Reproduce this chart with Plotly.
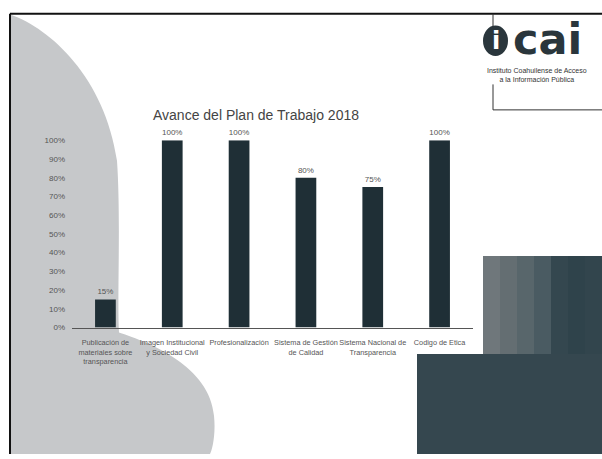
import plotly.graph_objects as go

categories = [
    "Publicación de<br>materiales sobre<br>transparencia",
    "Imagen Institucional<br>y Sociedad Civil",
    "Profesionalización",
    "Sistema de Gestión<br>de Calidad",
    "Sistema Nacional de<br>Transparencia",
    "Codigo de Etica",
]
values = [0.15, 1.00, 1.00, 0.80, 0.75, 1.00]
value_labels = ["15%", "100%", "100%", "80%", "75%", "100%"]
y_ticks = [0, 0.1, 0.2, 0.3, 0.4, 0.5, 0.6, 0.7, 0.8, 0.9, 1.0]

W, H = 602, 459
def px(x):
    return x / W
def py(y):
    return 1 - y / H

fig = go.Figure()
fig.add_trace(go.Bar(
    x=categories, y=values, text=value_labels, textposition="outside",
    textfont=dict(size=8, color="#555555", family="Liberation Sans"),
    marker=dict(color="#1f2f36", line=dict(width=0)),
    width=0.31, cliponaxis=False, hoverinfo="skip",
))

shapes = []
# gray blob on the left
pts = [("M", [(11, 11)]),
       ("C", [(50, 25), (105, 75), (117, 160)]),
       ("C", [(121, 220), (117, 300), (119, 335)]),
       ("C", [(150, 345), (210, 370), (214, 420)]),
       ("C", [(216, 440), (212, 455), (210, 459)]),
       ("L", [(11, 459)])]
path = ""
for cmd, ps in pts:
    path += cmd + " " + " ".join(f"{px(a):.5f},{py(b):.5f}" for a, b in ps) + " "
path += "Z"
shapes.append(dict(type="path", path=path, xref="paper", yref="paper",
                   fillcolor="#c6c8ca", line=dict(width=0), layer="below"))

# dark squares bottom right (upper one with gradient strips)
strip_cols = ["#6f777b", "#646e72", "#58666b", "#4a5b62", "#34474f", "#2f434b", "#32454d"]
x0, x1 = 483, 602
n = len(strip_cols)
for i, c in enumerate(strip_cols):
    a = x0 + (x1 - x0) * i / n
    b = x0 + (x1 - x0) * (i + 1) / n + 0.5
    shapes.append(dict(type="rect", xref="paper", yref="paper",
                       x0=px(a), x1=px(b), y0=py(459), y1=py(257),
                       fillcolor=c, line=dict(width=0)))
shapes.append(dict(type="rect", xref="paper", yref="paper",
                   x0=px(417), x1=px(602), y0=py(459), y1=py(357),
                   fillcolor="#35474f", line=dict(width=0)))

# frame
shapes.append(dict(type="line", xref="paper", yref="paper",
                   x0=px(10), x1=px(602), y0=py(10), y1=py(10),
                   line=dict(color="#111111", width=2)))
shapes.append(dict(type="line", xref="paper", yref="paper",
                   x0=px(10), x1=px(10), y0=py(10), y1=py(459),
                   line=dict(color="#111111", width=2)))
# logo box lines
shapes.append(dict(type="line", xref="paper", yref="paper",
                   x0=px(493), x1=px(493), y0=py(10), y1=py(30),
                   line=dict(color="#333333", width=1)))
shapes.append(dict(type="line", xref="paper", yref="paper",
                   x0=px(493), x1=px(493), y0=py(82), y1=py(108),
                   line=dict(color="#333333", width=1)))
shapes.append(dict(type="line", xref="paper", yref="paper",
                   x0=px(493), x1=px(602), y0=py(108), y1=py(108),
                   line=dict(color="#333333", width=1)))
# logo circle
shapes.append(dict(type="circle", xref="paper", yref="paper",
                   x0=px(483), x1=px(508), y0=py(53), y1=py(22),
                   fillcolor="#2a363c", line=dict(width=0)))

def ann(text, x, y, size, color, family="Liberation Sans"):
    return dict(text=text, x=px(x), y=py(y), xref="paper", yref="paper",
                xanchor="center", yanchor="middle", showarrow=False,
                font=dict(size=size, color=color, family=family))

annotations = [
    ann("Avance del Plan de Trabajo 2018", 256, 113, 14, "#444444"),
    ann("<b>i</b>", 495.5, 38, 24, "#ffffff", "DejaVu Sans"),
    ann("<b>cai</b>", 547, 36, 43, "#2a363c", "DejaVu Sans"),
    ann("Instituto Coahuilense de Acceso<br>a la Información Pública", 537, 72, 7, "#333333"),
]

fig.update_layout(
    width=W, height=H, margin=dict(l=0, r=0, t=0, b=0),
    paper_bgcolor="#ffffff", plot_bgcolor="rgba(0,0,0,0)",
    showlegend=False, shapes=shapes, annotations=annotations,
    hovermode=False,
    xaxis=dict(domain=[px(72), px(473)], showline=True, linecolor="#555555",
               linewidth=1, ticks="", showgrid=False, ticklabelstandoff=8,
               tickfont=dict(size=7.3, color="#555555", family="Liberation Sans"),
               tickangle=0),
    yaxis=dict(domain=[py(330), py(139)], range=[0, 1], tickvals=y_ticks,
               tickformat=".0%", showgrid=False, zeroline=False, showline=False,
               ticklabelstandoff=6,
               tickfont=dict(size=8, color="#555555", family="Liberation Sans")),
    bargap=0.69,
)

fig.write_html("out.html", config={"displayModeBar": False},
               post_script="document.body.style.margin='0';document.body.style.overflow='hidden';")
